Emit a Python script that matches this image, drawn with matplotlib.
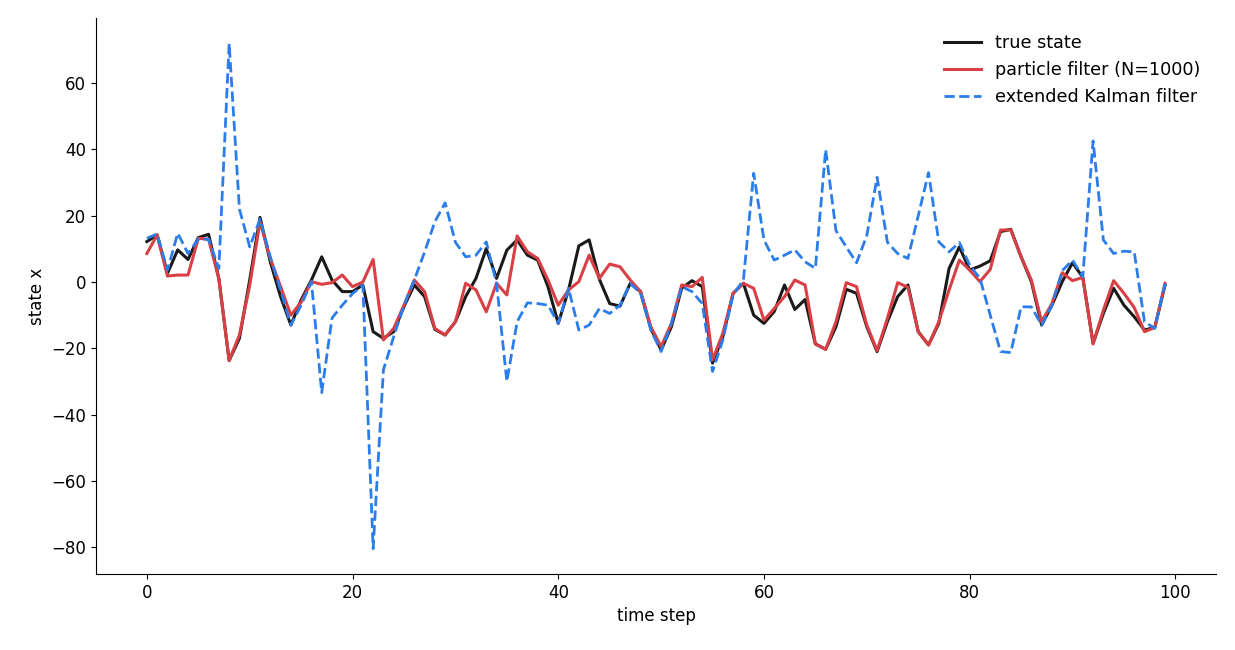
import numpy as np
import matplotlib
matplotlib.use("Agg")
import matplotlib.pyplot as plt

# values
true_state = [12.2, 14.2, 2.6, 9.7, 6.8, 13.4, 14.4, 1.0, -23.7, -17,
              0.6, 19.5, 6.1, -4.4, -13, -5.4, 0.6, 7.6, 0.6, -2.9,
              -2.9, -0.9, -15, -17, -15, -7.4, -0.9, -4.4, -14.3, -16,
              -12, -4.4, 1.1, 10.1, 1.1, 9.6, 12.7, 8.1, 6.6, -1.4,
              -12.5, -2.4, 10.9, 12.7, 0.8, -6.5, -7.3, -0.4, -2.9, -14,
              -20.5, -13.5, -1.9, 0.4, -1.4, -24.5, -16.5, -3.4, -0.4, -10,
              -12.5, -8.9, -0.9, -8.3, -5.3, -18.7, -20.3, -13.5, -2.2, -3.4,
              -13.5, -21, -12, -4.4, -0.9, -15, -19, -12.5, 4.1, 10.6,
              3.6, 4.8, 6.4, 15.2, 15.9, 7.6, 0.1, -13, -7, 0.1,
              5.8, 1.4, -18.5, -9.5, -1.9, -7, -10.5, -14.5, -13.7, -0.9]

particle = [8.6, 14.2, 1.8, 2.1, 2.1, 13.2, 12.9, 1.0, -23.7, -16,
            -1, 18.2, 7.1, -1.4, -10, -6.1, 0.1, -0.7, -0.2, 2.1,
            -1.4, 0, 6.8, -17.5, -14, -7, 0.6, -2.9, -14, -16,
            -12, -0.4, -2.4, -9, -0.4, -3.9, 13.9, 9.1, 7.1, 0.6,
            -7, -2.4, 0.1, 8.1, 1.1, 5.4, 4.6, 0.6, -2.9, -13.5,
            -19.5, -12.5, -0.9, -1.4, 1.4, -23.5, -15.5, -3.4, -0.4, -1.9,
            -11.5, -8, -4.4, 0.6, -0.9, -18.7, -20.3, -12, -0.2, -1.4,
            -13, -20.7, -11, -0.2, -1.6, -15, -19, -12, -2.4, 6.6,
            3.6, 0.1, 3.8, 15.7, 15.7, 7.6, 0.6, -12, -6.5, 2.8,
            0.4, 1.4, -18.7, -8.5, 0.4, -3.4, -7.7, -15, -13.7, -0.4]

ekf = [13.2, 14.5, 3.6, 14.7, 8.6, 12.9, 12.9, 4.1, 72, 22,
       10.6, 19, 7.6, -2.4, -13, -7, 0.1, -33.4, -10.9, -7,
       -3.5, -1, -80.5, -26.5, -16.5, -7, 0.6, 9, 18.2, 23.9,
       12, 7.6, 8.1, 12.1, -0.4, -30, -12, -6.3, -6.5, -7,
       -12.5, -1.9, -14.5, -13, -8, -9.5, -7, -0.4, -3.4, -14.5,
       -21, -12.5, -1.4, -2.9, -6.5, -27, -17.5, -3.9, 0.6, 32.8,
       12.7, 6.6, 8.1, 9.7, 6.1, 4.1, 40, 15.5, 10.6, 5.8,
       14, 31.6, 12, 8.6, 7.1, 20, 33, 12.1, 9.1, 11.9,
       5.1, 1.1, -10, -21, -21.3, -7.5, -7.5, -13, -7, 3.4,
       6.6, 1.6, 42.6, 12.7, 8.6, 9.3, 9.1, -12, -14, -0.4]

t = np.arange(len(true_state))

plt.rcParams['font.size'] = 12

fig, ax = plt.subplots(figsize=(12.35, 6.5), dpi=100)
fig.subplots_adjust(left=0.0777, right=0.9846, top=0.972, bottom=0.117)

ax.plot(t, true_state, color='#1a1a1a', lw=2.2, label='true state')
ax.plot(t, particle, color='#d94045', lw=2.2, label='particle filter (N=1000)')
ax.plot(t, ekf, color='#2b7de9', lw=2, ls='--', label='extended Kalman filter')

ax.set_xlabel('time step')
ax.set_ylabel('state x')
ax.spines['top'].set_visible(False)
ax.spines['right'].set_visible(False)
ax.legend(loc='upper right', frameon=False, fontsize=12.7, handlelength=2.1)

fig.savefig('out.png', dpi=100)
